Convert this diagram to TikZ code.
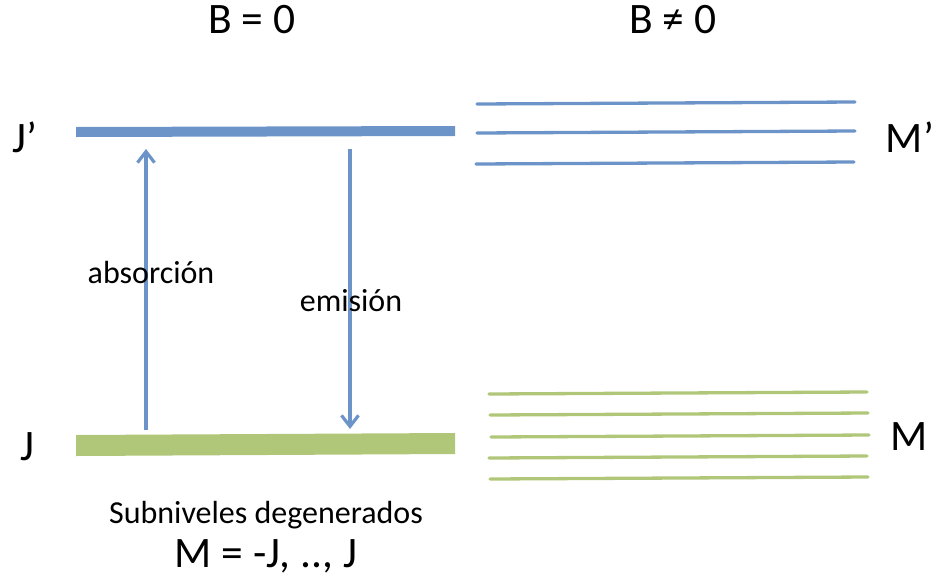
\documentclass[tikz,border=0pt]{standalone}
\usepackage{fontspec}
\setmainfont{Carlito}
\usetikzlibrary{arrows.meta}
\definecolor{lvlblue}{RGB}{108,148,200}
\definecolor{lvlgreen}{RGB}{176,198,120}
\begin{document}
\begin{tikzpicture}[x=1pt,y=-1pt,
  big/.style={font=\fontsize{43.5}{50}\selectfont, inner sep=0pt},
  small/.style={font=\fontsize{32}{38}\selectfont, inner sep=0pt},
  sub/.style={line width=3.3pt, line cap=round},
  trans/.style={draw=lvlblue, line width=3.2pt, -{Straight Barb[length=11pt,width=17pt,line width=3.2pt]}}]
\useasboundingbox (0,0) rectangle (933,581);
% titles
\node[big] (b0) at (252,20) {B = 0};
\node[big] (b1) at (673,20) {B ≠ 0};
% degenerate levels
\fill[lvlblue] (76,127) -- (455,126) -- (455,136) -- (76,137) -- cycle;
\fill[lvlgreen] (76,435) -- (455,433) -- (455,454) -- (76,456) -- cycle;
\node[big] (jp) at (25,137) {J’};
\node[big] (j) at (27,447) {J};
% transitions
\coordinate (a1) at (146,430);
\coordinate (a2) at (146,149);
\coordinate (e1) at (350,149);
\coordinate (e2) at (350,429);
\draw[trans] (a1) -- (a2);
\draw[trans] (e1) -- (e2);
\node[small] (abs) at (151,273) {absorción};
\node[small] (emi) at (351,301) {emisión};
% split upper levels
\draw[sub, draw=lvlblue] (477,104) -- (855,102);
\draw[sub, draw=lvlblue] (477,133) -- (855,131);
\draw[sub, draw=lvlblue] (476,164) -- (854,162);
\node[big] (mp) at (910,137) {M’};
% split lower levels
\draw[sub, draw=lvlgreen] (489,394) -- (867,392);
\draw[sub, draw=lvlgreen] (490,415) -- (868,413);
\draw[sub, draw=lvlgreen] (491,437) -- (869,435);
\draw[sub, draw=lvlgreen] (489,458) -- (867,456);
\draw[sub, draw=lvlgreen] (490,479) -- (868,477);
\node[big] (m) at (909,437) {M};
% bottom text
\node[small] (sn) at (266,515) {Subniveles degenerados};
\node[big] (mr) at (266,556) {M = -J, .., J};
\end{tikzpicture}
\end{document}
